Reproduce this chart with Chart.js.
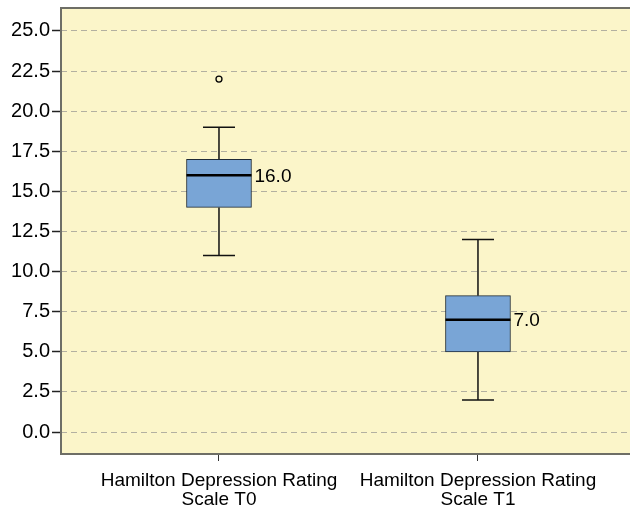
<!DOCTYPE html>
<html>
<head>
<meta charset="utf-8">
<script src="https://cdn.jsdelivr.net/npm/chart.js@4/dist/chart.umd.min.js"></script>
<style>
html,body{margin:0;padding:0;background:#fff;}
#wrap{width:630px;height:508px;position:relative;}
</style>
</head>
<body>
<div id="wrap"><canvas id="c" width="630" height="508"></canvas></div>
<script>
// ---- data ----
const categories = [["Hamilton Depression Rating","Scale T0"],["Hamilton Depression Rating","Scale T1"]];
const positions = [1, 2];
const whiskerLow = [11, 2];
const q1 = [14, 5];
const median = [16, 7];
const q3 = [17, 8.5];
const whiskerHigh = [19, 12];
const outliers = [{x:1, y:22}];
const yTicks = [0, 2.5, 5, 7.5, 10, 12.5, 15, 17.5, 20, 22.5, 25];

const FONT = "'Liberation Sans', Arial, sans-serif";

const bgPlugin = {
  id: 'bg',
  beforeDraw(chart) {
    const {ctx, chartArea: a} = chart;
    ctx.save();
    ctx.fillStyle = '#fbf5c9';
    ctx.fillRect(a.left, a.top, a.right - a.left, a.bottom - a.top);
    ctx.restore();
  },
  afterDraw(chart) {
    const {ctx, chartArea: a} = chart;
    ctx.save();
    ctx.strokeStyle = '#6e6e66';
    ctx.lineWidth = 2;
    ctx.strokeRect(a.left, a.top, a.right - a.left + 4, a.bottom - a.top);
    ctx.restore();
  }
};

const boxPlugin = {
  id: 'boxparts',
  beforeDatasetsDraw(chart) {
    const {ctx} = chart;
    const xs = chart.scales.x, ys = chart.scales.y;
    ctx.save();
    ctx.strokeStyle = '#111';
    ctx.lineWidth = 1.5;
    for (let i = 0; i < positions.length; i++) {
      const cx = xs.getPixelForValue(positions[i]);
      const capHalf = 16;
      const yl = ys.getPixelForValue(whiskerLow[i]);
      const yh = ys.getPixelForValue(whiskerHigh[i]);
      const y1 = ys.getPixelForValue(q1[i]);
      const y3 = ys.getPixelForValue(q3[i]);
      ctx.beginPath();
      ctx.moveTo(cx, yl); ctx.lineTo(cx, y1);
      ctx.moveTo(cx, y3); ctx.lineTo(cx, yh);
      ctx.moveTo(cx - capHalf, yl); ctx.lineTo(cx + capHalf, yl);
      ctx.moveTo(cx - capHalf, yh); ctx.lineTo(cx + capHalf, yh);
      ctx.stroke();
    }
    ctx.restore();
  },
  afterDatasetsDraw(chart) {
    const {ctx} = chart;
    const ys = chart.scales.y;
    const meta = chart.getDatasetMeta(0);
    ctx.save();
    for (let i = 0; i < positions.length; i++) {
      const bar = meta.data[i];
      const half = bar.width / 2;
      const ym = ys.getPixelForValue(median[i]);
      ctx.strokeStyle = '#000';
      ctx.lineWidth = 2.5;
      ctx.beginPath();
      ctx.moveTo(bar.x - half, ym); ctx.lineTo(bar.x + half, ym);
      ctx.stroke();
      ctx.fillStyle = '#000';
      ctx.font = '19px ' + FONT;
      ctx.textAlign = 'left';
      ctx.textBaseline = 'middle';
      ctx.fillText(median[i].toFixed(1), bar.x + half + 3, ym + 1);
    }
    ctx.restore();
  }
};

new Chart(document.getElementById('c'), {
  type: 'bar',
  data: {
    datasets: [
      {
        type: 'bar',
        data: positions.map((p, i) => ({x: p, y: [q1[i], q3[i]]})),
        backgroundColor: '#79a5d6',
        borderColor: '#1e2a38',
        borderWidth: 1,
        borderSkipped: false,
        barThickness: 65,
        grouped: false
      },
      {
        type: 'scatter',
        data: outliers,
        pointStyle: 'circle',
        pointRadius: 3,
        pointBorderWidth: 1.3,
        pointBorderColor: '#000',
        pointBackgroundColor: 'rgba(0,0,0,0)'
      }
    ]
  },
  options: {
    responsive: false,
    animation: false,
    events: [],
    layout: {autoPadding: false, padding: {top: 8, right: 0, left: 0, bottom: 0}},
    plugins: {legend: {display: false}, tooltip: {enabled: false}},
    scales: {
      x: {
        type: 'linear',
        offset: false,
        min: 0.39,
        max: 2.587,
        afterBuildTicks(scale) { scale.ticks = positions.map(v => ({value: v})); },
        afterFit(scale) { scale.height = 54; scale.paddingLeft = 0; scale.paddingRight = 0; },
        ticks: {
          autoSkip: false,
          maxRotation: 0,
          padding: 10,
          color: '#000',
          font: {family: FONT, size: 19, lineHeight: 1.0},
          callback(value) {
            const idx = positions.indexOf(value);
            return idx >= 0 ? categories[idx] : '';
          }
        },
        grid: {
          offset: false,
          drawOnChartArea: false,
          drawTicks: true,
          tickLength: 7,
          tickColor: '#333',
          tickWidth: 1
        },
        border: {display: false}
      },
      y: {
        type: 'linear',
        min: -1.37,
        max: 26.43,
        afterBuildTicks(scale) { scale.ticks = yTicks.map(v => ({value: v})); },
        afterFit(scale) { scale.width = 61; scale.paddingTop = 0; scale.paddingBottom = 0; },
        ticks: {
          padding: 2,
          color: '#000',
          font: {family: FONT, size: 20},
          callback(value) { return Number(value).toFixed(1); }
        },
        grid: {
          color: '#b3b0a0',
          lineWidth: 1,
          drawTicks: true,
          tickLength: 9,
          tickColor: '#222',
          tickWidth: 1.5,
          tickBorderDash: []
        },
        border: {display: false, dash: [6, 4]}
      }
    }
  },
  plugins: [bgPlugin, boxPlugin]
});
</script>
</body>
</html>
